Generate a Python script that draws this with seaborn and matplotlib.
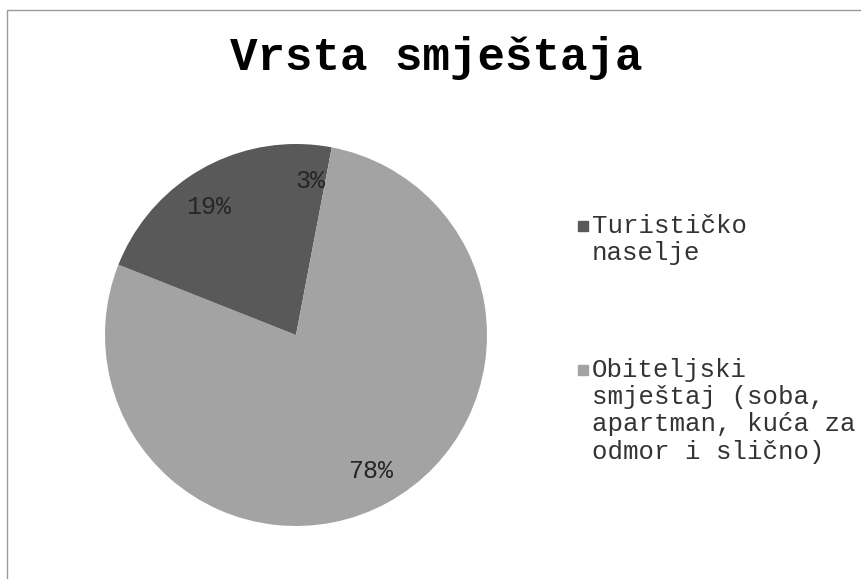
import matplotlib
matplotlib.use("Agg")
import matplotlib.pyplot as plt
import seaborn as sns
from matplotlib.patches import Rectangle

# data
slice_values = [3, 78, 19]
slice_colors = ["#595959", "#a3a3a3", "#595959"]
legend_labels = ["Turističko\nnaselje",
                 "Obiteljski\nsmještaj (soba,\napartman, kuća za\nodmor i slično)"]
legend_colors = ["#595959", "#a3a3a3"]
title = "Vrsta smještaja"

sns.set_theme(style="white")
plt.rcParams['font.family'] = ['Liberation Mono', 'DejaVu Sans Mono']

fig = plt.figure(figsize=(8.62, 5.79), dpi=100)
W, H = 862, 579

# pie axes: centre (296, 335), radius ~191 px
cx, cy, r = 296, 335, 191
ax = fig.add_axes([(cx - r) / W, (H - cy - r) / H, 2 * r / W, 2 * r / H])
wedges, texts, autotexts = ax.pie(slice_values, colors=slice_colors, startangle=90,
                                  counterclock=False, autopct='%1.0f%%',
                                  pctdistance=0.81, radius=1,
                                  wedgeprops=dict(linewidth=0),
                                  textprops=dict(fontsize=18, color='#262626',
                                                 family=['Liberation Mono', 'DejaVu Sans Mono']))
ax.set_xlim(-1, 1)
ax.set_ylim(-1, 1)
ax.set_aspect('equal')
ax.axis('off')

fig.text(436 / W, 1 - 58 / H, title, ha='center', va='center',
         fontsize=33, fontweight='bold', color='black')

# legend drawn by hand so the square sits on the first line
leg_y = [226, 370]
for lab, col, y in zip(legend_labels, legend_colors, leg_y):
    fig.patches.append(Rectangle((578 / W, 1 - (y + 5) / H), 10 / W, 10 / H,
                                 transform=fig.transFigure, color=col))
    fig.text(592 / W, 1 - (y - 12) / H, lab, ha='left', va='top',
             fontsize=18.5, color='#333333', linespacing=1.17)

# chart frame (only top and left edges visible)
fig.patches.append(Rectangle((7 / W, -0.1), 1.2, 1 - 10 / H + 0.1,
                             transform=fig.transFigure, fill=False,
                             edgecolor='#9a9a9a', linewidth=1))

fig.savefig("out.png", dpi=100, facecolor='white')
